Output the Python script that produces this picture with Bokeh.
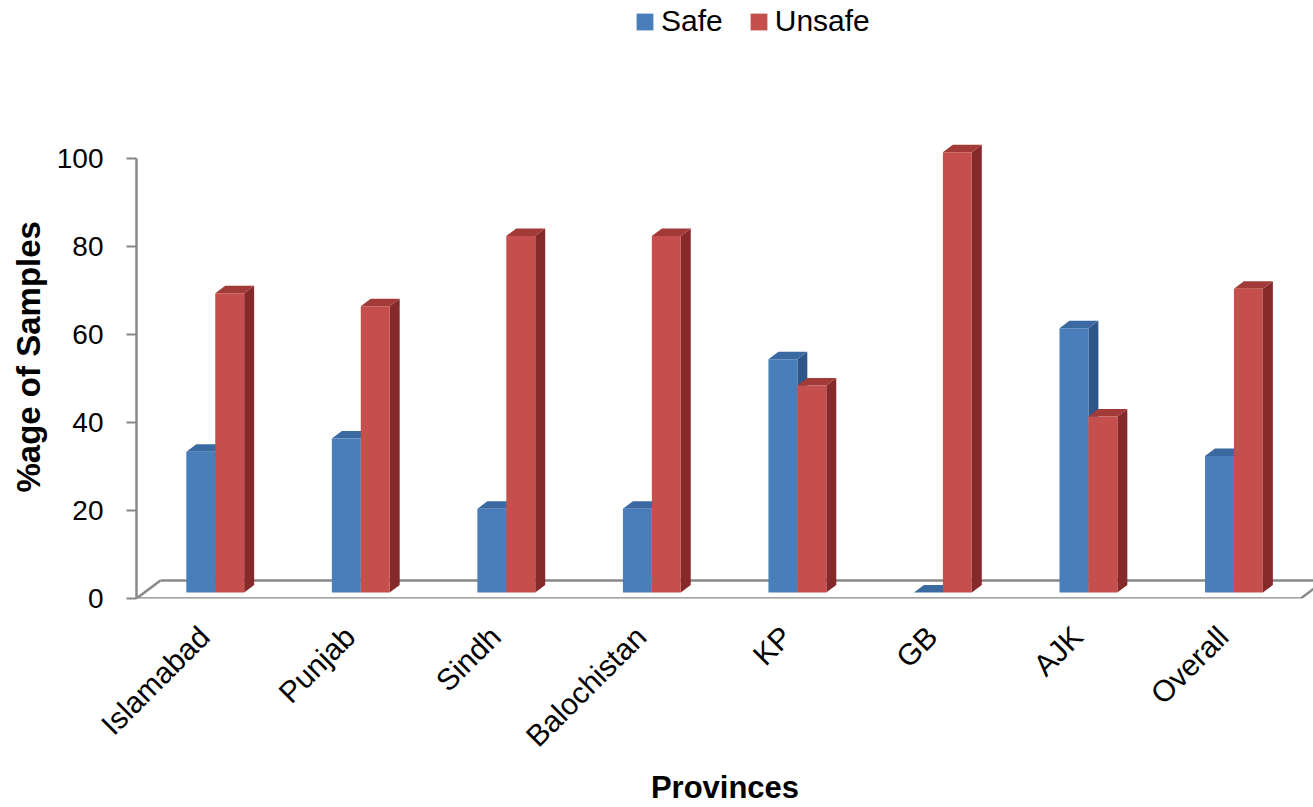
import math
from bokeh.plotting import figure
from bokeh.models import Range1d, FixedTicker, Legend, LegendItem, Title
from bokeh.embed import file_html
from bokeh.resources import INLINE

# ---- data ----
categories = ["Islamabad", "Punjab", "Sindh", "Balochistan", "KP", "GB", "AJK", "Overall"]
safe = [32, 35, 19, 19, 53, 0, 60, 31]
unsafe = [68, 65, 81, 81, 47, 100, 40, 69]
series_names = ["Safe", "Unsafe"]
y_ticks = [0, 20, 40, 60, 80, 100]
x_title = "Provinces"
y_title = "%age of Samples"

# ---- layout (pixels) ----
W, H = 1313, 807
FL, FR, FT, FB = 133, 1313, 0, 599
PX_CAT = 145.9
PX_Y = 4.41

FD_X, FD_Y = 24 / PX_CAT, 18 / PX_Y       # floor depth
SHIFT = 6 / PX_CAT                         # bar front plane offset
LBL = 11 / PX_CAT                          # labels sit left of bar centres
BASE = 6 / PX_Y
BW = 29 / PX_CAT                           # bar width
BD_X, BD_Y = 10 / PX_CAT, 7.5 / PX_Y       # bar depth

X0 = -(0.5 + SHIFT) + LBL
x_range = Range1d(X0, X0 + (FR - FL) / PX_CAT)
y_range = Range1d(0, (FB - FT) / PX_Y)

p = figure(width=W, height=H, x_range=x_range, y_range=y_range,
           output_backend="svg", toolbar_location=None,
           min_border_left=FL, min_border_right=0,
           min_border_top=FT, min_border_bottom=H - FB)
p.outline_line_color = None
p.xgrid.visible = False
p.ygrid.visible = False
p.background_fill_color = "white"

# ---- floor ----
n = len(categories)
floor_col = "#888888"
fx = [[X0, X0 + n], [X0 + n, X0 + n + FD_X], [X0 + FD_X, X0 + n + FD_X + 0.5], [X0, X0 + FD_X]]
fy = [[0, 0], [0, FD_Y], [FD_Y, FD_Y], [0, FD_Y]]
p.multi_line(fx, fy, line_color=floor_col, line_width=2.5)


def bars(values, left_off, front, top, side):
    lefts = [i + LBL + left_off for i in range(n)]
    rights = [l + BW for l in lefts]
    tops = [BASE + v for v in values]
    side_xs = [[r, r + BD_X, r + BD_X, r] for r in rights]
    side_ys = [[BASE, BASE + BD_Y, t + BD_Y, t] for t in tops]
    p.patches(side_xs, side_ys, fill_color=side, line_color=None)
    top_xs = [[l, r, r + BD_X, l + BD_X] for l, r in zip(lefts, rights)]
    top_ys = [[t, t, t + BD_Y, t + BD_Y] for t in tops]
    p.patches(top_xs, top_ys, fill_color=top, line_color=None)
    return p.quad(left=lefts, right=rights, bottom=[BASE] * n, top=tops,
                  fill_color=front, line_color=None)


r_safe = bars(safe, -BW, "#4A7EBB", "#3B69A2", "#2E5688")
r_unsafe = bars(unsafe, 0, "#C44F4C", "#A23A37", "#86292A")

# ---- axes ----
ya = p.yaxis[0]
ya.ticker = FixedTicker(ticks=y_ticks)
ya.bounds = (0, 100)
ya.axis_line_color = floor_col
ya.axis_line_width = 2.5
ya.major_tick_line_color = floor_col
ya.major_tick_line_width = 2
ya.major_tick_out = 10
ya.major_tick_in = 0
ya.minor_tick_line_color = None
ya.major_label_text_font = "Liberation Sans"
ya.major_label_text_font_size = "28px"
ya.major_label_text_color = "black"
ya.major_label_standoff = 23

ytitle = Title(text=y_title, align="left", offset=FB - 493,
               text_font="Liberation Sans", text_font_style="bold",
               text_font_size="33px", text_color="black", standoff=14)
p.add_layout(ytitle, "left")

xa = p.xaxis[0]
xa.ticker = FixedTicker(ticks=list(range(n)))
xa.major_label_overrides = {i: c for i, c in enumerate(categories)}
xa.axis_line_color = None
xa.major_tick_line_color = None
xa.major_tick_out = 0
xa.major_tick_in = 0
xa.minor_tick_line_color = None
xa.major_label_orientation = math.pi / 4
xa.major_label_text_font = "Liberation Sans"
xa.major_label_text_font_size = "30px"
xa.major_label_text_color = "black"
xa.major_label_standoff = 33
xa.axis_label = x_title
xa.axis_label_text_font = "Liberation Sans"
xa.axis_label_text_font_style = "bold"
xa.axis_label_text_font_size = "31px"
xa.axis_label_text_color = "black"
xa.axis_label_standoff = 2

# ---- legend ----
legend = Legend(items=[LegendItem(label=series_names[0], renderers=[r_safe]),
                       LegendItem(label=series_names[1], renderers=[r_unsafe])],
                orientation="horizontal", location=(631 - FL, FB - 4 - 35),
                glyph_width=21, glyph_height=21,
                label_text_font="Liberation Sans", label_text_font_size="30px",
                label_text_color="black",
                label_standoff=6, spacing=25, padding=0, margin=0,
                border_line_color=None, background_fill_alpha=0)
p.add_layout(legend)

open("out.html", "w").write(file_html(p, INLINE))
